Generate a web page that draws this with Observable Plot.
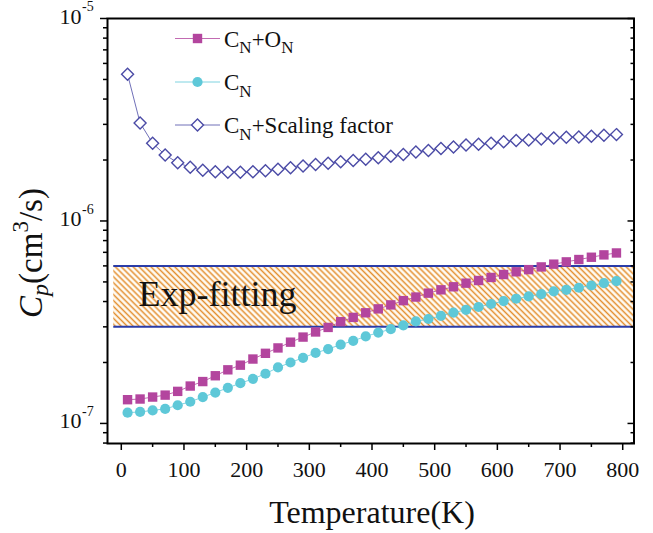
<!DOCTYPE html>
<html><head><meta charset="utf-8">
<script src="https://cdn.jsdelivr.net/npm/d3@7"></script>
<script src="https://cdn.jsdelivr.net/npm/@observablehq/plot@0.6"></script>
<style>
body{margin:0;background:#fff;}
#wrap{position:relative;width:653px;height:533px;font-family:"Liberation Serif","Times New Roman",serif;}
#wrap svg, #wrap svg text{font-family:"Liberation Serif","Times New Roman",serif !important;}
#wrap svg.ov{position:absolute;left:0;top:0;pointer-events:none;}
</style></head><body><div id="wrap"></div>
<script>
// ---- data ----
const temperature = [10,30,50,70,90,110,130,150,170,190,210,230,250,270,290,310,330,350,370,390,
                     410,430,450,470,490,510,530,550,570,590,610,630,650,670,690,710,730,750,770,790];
const cnOn = [1.31,1.32,1.35,1.38,1.44,1.53,1.61,1.72,1.84,1.94,2.08,2.22,2.36,2.52,2.67,2.83,2.98,3.18,3.34,3.52,
              3.68,3.85,4.04,4.21,4.40,4.57,4.73,4.93,5.08,5.26,5.44,5.61,5.75,5.93,6.12,6.28,6.45,6.62,6.80,6.95].map(v=>v*1e-7);
const cn = [1.13,1.14,1.16,1.18,1.23,1.28,1.35,1.42,1.50,1.58,1.66,1.76,1.89,2.00,2.11,2.23,2.33,2.45,2.56,2.69,
            2.81,2.92,3.05,3.19,3.28,3.40,3.53,3.64,3.76,3.89,4.02,4.13,4.24,4.35,4.49,4.57,4.68,4.80,4.93,5.04].map(v=>v*1e-7);
const cnScaling = [5.30,3.05,2.42,2.12,1.94,1.84,1.78,1.75,1.74,1.74,1.75,1.77,1.80,1.83,1.87,1.90,1.93,1.96,1.99,2.02,
                   2.05,2.09,2.13,2.19,2.23,2.28,2.32,2.37,2.39,2.42,2.46,2.50,2.51,2.54,2.57,2.59,2.60,2.62,2.65,2.67].map(v=>v*1e-6);
const bandLow = 3e-7, bandHigh = 6e-7;
const bandStart = -12, bandEnd = 818;
const bandLabel = "Exp-fitting";
const xMajor = [0,100,200,300,400,500,600,700,800];
const xMinor = [50,150,250,350,450,550,650,750];
const yMajor = [1e-7,1e-6,1e-5];
const yExp = ["-7","-6","-5"];
const yMinor = [8e-8,9e-8,2e-7,3e-7,4e-7,5e-7,6e-7,7e-7,8e-7,9e-7,2e-6,3e-6,4e-6,5e-6,6e-6,7e-6,8e-6,9e-6];
const xTitle = "Temperature(K)";

// ---- styles ----
const FONT = '"Liberation Serif","Times New Roman",serif';
const C_MAG = "#b3459e", C_CYAN = "#5ec8d8", C_DIA = "#4b4ba6", C_BAND = "#2a3ca8", C_HATCH = "#e38f30";
const R_SQ = 5.3, R_CI = 5.1, R_DI = 5.4;

const rows = (vals) => temperature.map((T,i)=>({T, v: vals[i]}));
const dMag = rows(cnOn), dCyan = rows(cn), dDia = rows(cnScaling);
const band = [{x1: bandStart, x2: bandEnd, lo: bandLow, hi: bandHigh}];

const W = 653, H = 533;
const svg = Plot.plot({
  width: W, height: H,
  marginLeft: 107, marginRight: 19.5, marginTop: 18, marginBottom: 90,
  style: {fontFamily: FONT, background: "#fff", color: "#000", overflow: "visible"},
  x: {domain: [-22, 818]},
  y: {type: "log", domain: [7.96e-8, 1e-5]},
  marks: [
    Plot.rect(band, {x1: "x1", x2: "x2", y1: "lo", y2: "hi", fill: "#fffcf5"}),
    Plot.rect(band, {x1: "x1", x2: "x2", y1: "lo", y2: "hi", fill: "url(#hatch)"}),
    Plot.ruleY([bandLow, bandHigh], {x1: bandStart, x2: bandEnd, stroke: C_BAND, strokeWidth: 2}),
    Plot.text([bandLabel], {y: Math.sqrt(bandLow*bandHigh), frameAnchor: "left", dx: 31, textAnchor: "start",
      text: d=>d, fontSize: 36, fill: "#111", dy: -2}),
    Plot.line(dMag, {x: "T", y: "v", stroke: C_MAG, strokeWidth: 0.8}),
    Plot.line(dCyan, {x: "T", y: "v", stroke: C_CYAN, strokeWidth: 0.8}),
    Plot.line(dDia, {x: "T", y: "v", stroke: C_DIA, strokeWidth: 0.8}),
    Plot.dot(dMag, {x: "T", y: "v", symbol: "square", r: R_SQ, fill: C_MAG}),
    Plot.dot(dCyan, {x: "T", y: "v", symbol: "circle", r: R_CI, fill: C_CYAN}),
    Plot.dot(dDia, {x: "T", y: "v", symbol: "diamond2", r: R_DI, fill: "#fff", stroke: C_DIA, strokeWidth: 1.4}),
    // axes
    Plot.axisX(xMajor, {anchor: "bottom", tickSize: 7, tickPadding: 11, fontSize: 22,
      tickFormat: d=>String(d), label: null, strokeWidth: 1.5, fill: "#111"}),
    Plot.axisX(xMinor, {anchor: "bottom", tickSize: 4, tickFormat: ()=>"", label: null, strokeWidth: 1.5}),
    Plot.axisY(yMajor, {anchor: "left", tickSize: 7, tickFormat: ()=>"", label: null, strokeWidth: 1.5}),
    Plot.axisY(yMinor, {anchor: "left", tickSize: 4, tickFormat: ()=>"", label: null, strokeWidth: 1.5}),
    Plot.axisY(yMajor, {anchor: "right", tickSize: 7, dx: -7, tickFormat: ()=>"", label: null, strokeWidth: 1.5}),
    Plot.axisY(yMinor, {anchor: "right", tickSize: 4, dx: -4, tickFormat: ()=>"", label: null, strokeWidth: 1.5}),
    Plot.text(yMajor, {y: d=>d, frameAnchor: "left", dx: -26, dy: -2, textAnchor: "end", text: ()=>"10",
      fontSize: 22, fill: "#111"}),
    Plot.text(yMajor, {y: d=>d, frameAnchor: "left", dx: -25.5, dy: -11.5, textAnchor: "start",
      text: (d,i)=>yExp[i], fontSize: 14, fill: "#111"}),
    Plot.frame({stroke: "#000", strokeWidth: 2})
  ]
});

// hatch pattern
const defs = d3.select(svg).insert("defs", ":first-child");
const pat = defs.append("pattern").attr("id", "hatch").attr("patternUnits", "userSpaceOnUse")
  .attr("width", 4.2).attr("height", 10).attr("patternTransform", "rotate(-45)");
pat.append("line").attr("x1", 2.1).attr("x2", 2.1).attr("y1", -1).attr("y2", 11)
  .attr("stroke", C_HATCH).attr("stroke-width", 1.5);

const wrap = document.getElementById("wrap");
wrap.appendChild(svg);

// overlay: axis titles and legend
const ov = d3.select(wrap).append("svg").attr("class", "ov").attr("width", W).attr("height", H);

ov.append("text").attr("x", 372).attr("y", 523).attr("text-anchor", "middle")
  .attr("font-size", 32).attr("fill", "#111").text(xTitle);

const yl = ov.append("text").attr("transform", "translate(42,253) rotate(-90)")
  .attr("text-anchor", "middle").attr("font-size", 33).attr("fill", "#111");
yl.append("tspan").attr("font-style", "italic").text("C");
yl.append("tspan").attr("font-style", "italic").attr("font-size", 24).attr("dy", 6).text("p");
yl.append("tspan").attr("dy", -6).text("(cm");
yl.append("tspan").attr("font-size", 23).attr("dy", -14).text("3");
yl.append("tspan").attr("dy", 14).text("/s)");

// legend
const legend = [
  {y: 38.5, color: C_MAG, sym: d3.symbolSquare, r: R_SQ, fill: C_MAG, stroke: "none", parts: [["C",0],["N",1],["+O",0],["N",1]]},
  {y: 82, color: C_CYAN, sym: d3.symbolCircle, r: R_CI, fill: C_CYAN, stroke: "none", parts: [["C",0],["N",1]]},
  {y: 125, color: C_DIA, sym: d3.symbolDiamond2, r: R_DI, fill: "#fff", stroke: C_DIA, parts: [["C",0],["N",1],["+Scaling factor",0]]}
];
legend.forEach(it => {
  const g = ov.append("g");
  g.append("line").attr("x1", 175).attr("x2", 220).attr("y1", it.y).attr("y2", it.y)
    .attr("stroke", it.color).attr("stroke-width", 0.8);
  g.append("path").attr("d", d3.symbol(it.sym, Math.PI*it.r*it.r)())
    .attr("transform", `translate(197.5,${it.y})`).attr("fill", it.fill)
    .attr("stroke", it.stroke).attr("stroke-width", 1.4);
  const t = g.append("text").attr("x", 224).attr("y", it.y + 8).attr("font-size", 23).attr("fill", "#111");
  let sub = 0;
  it.parts.forEach(([s, isSub]) => {
    const dy = isSub ? (sub ? 0 : 6.5) : (sub ? -6.5 : 0);
    sub = isSub;
    t.append("tspan").attr("dy", dy).attr("font-size", isSub ? 17 : 23).text(s);
  });
});
</script></body></html>
